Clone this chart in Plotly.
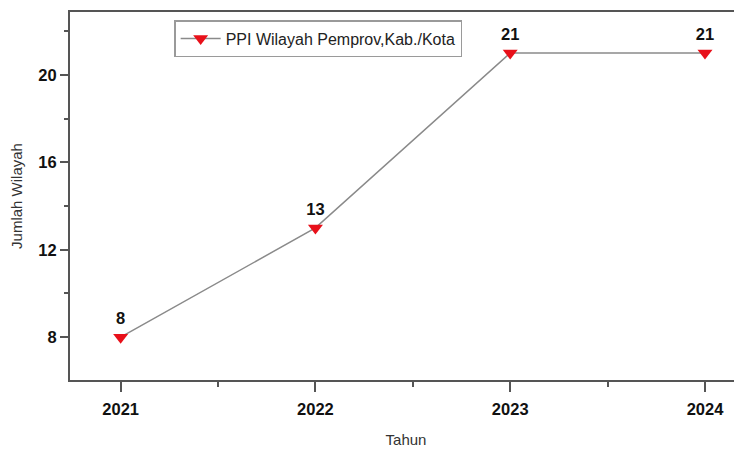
import plotly.graph_objects as go

years = [2021, 2022, 2023, 2024]
counts = [8, 13, 21, 21]
series_name = "PPI Wilayah Pemprov,Kab./Kota"
y_ticks = [8, 12, 16, 20]

font = "Liberation Sans, Arial, sans-serif"

fig = go.Figure()
fig.add_trace(go.Scatter(
    x=years, y=counts, name=series_name,
    mode="lines+markers+text",
    line=dict(color="#8a8a8a", width=1.5),
    marker=dict(symbol="triangle-down", size=13, color="#e8101a"),
    text=[str(v) for v in counts], textposition="top center",
    textfont=dict(family=font, size=16.5, color="#111"),
    texttemplate="<b>%{text}</b>",
))

fig.update_layout(
    width=742, height=457,
    margin=dict(l=62, r=8, t=4, b=85),
    paper_bgcolor="white", plot_bgcolor="white",
    showlegend=True,
    legend=dict(x=0.155, y=0.978, xanchor="left", yanchor="top",
                bordercolor="#9a9a9a", borderwidth=1.5,
                font=dict(family=font, size=16, color="#222"),
                bgcolor="white", itemwidth=40),
    font=dict(family=font),
)
fig.update_xaxes(
    range=[2020.74, 2024.19], tickvals=years, ticktext=[f"<b>{y}</b>" for y in years],
    automargin=False,
    showgrid=False, zeroline=False, showline=True, linecolor="#555", linewidth=2,
    mirror=True, ticks="outside", ticklen=10, tickwidth=1.5, tickcolor="#555",
    ticklabelstandoff=3,
    minor=dict(dtick=0.5, tick0=2021.5, ticks="outside", ticklen=5, tickwidth=1.5, tickcolor="#555"),
    tickfont=dict(family=font, size=16.5, color="#111"),
    title=dict(text="Tahun", font=dict(family=font, size=15, color="#333"), standoff=18),
)
fig.update_yaxes(
    range=[6.04, 22.88], tickvals=y_ticks, ticktext=[f"<b>{v}</b>" for v in y_ticks],
    automargin=False,
    showgrid=False, zeroline=False, showline=True, linecolor="#555", linewidth=2,
    ticks="outside", ticklen=8, tickwidth=1.5, tickcolor="#555",
    minor=dict(tickvals=[10, 14, 18, 22], ticks="outside", ticklen=4, tickwidth=1.5, tickcolor="#555"),
    tickfont=dict(family=font, size=16.5, color="#111"),
    title=dict(text="Jumlah Wilayah", font=dict(family=font, size=15, color="#333"), standoff=12),
)

fig.write_html("out.html")
